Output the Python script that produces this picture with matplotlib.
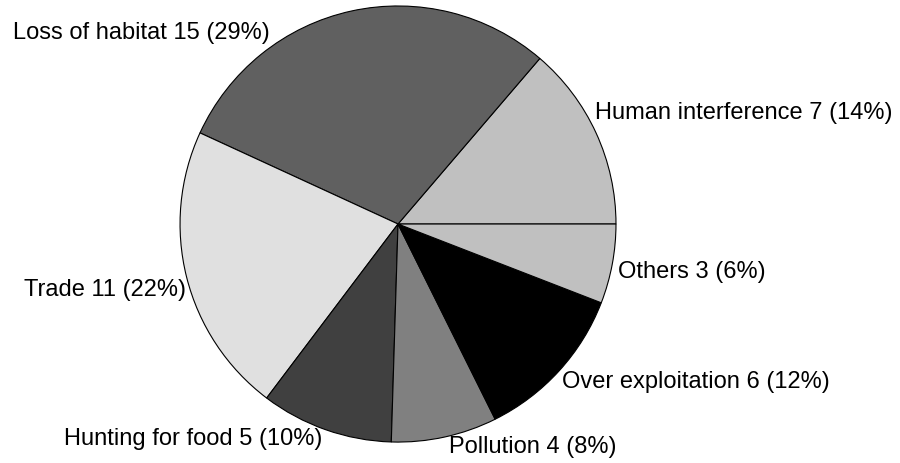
import matplotlib.pyplot as plt

# slice data, counter-clockwise from 3 o'clock
causes = ["Human interference", "Loss of habitat", "Trade", "Hunting for food",
          "Pollution", "Over exploitation", "Others"]
counts = [7, 15, 11, 5, 4, 6, 3]
percents = [14, 29, 22, 10, 8, 12, 6]
colors = ["#c0c0c0", "#606060", "#e0e0e0", "#404040", "#808080", "#000000", "#c0c0c0"]

# label anchors in pie units (radius = 1)
label_pos = [(0.904, 0.514, "left"), (-0.587, 0.881, "right"), (-0.972, -0.298, "right"),
             (-0.349, -0.982, "right"), (0.234, -1.018, "left"), (0.752, -0.720, "left"),
             (1.009, -0.216, "left")]

plt.rcParams["font.family"] = ["Liberation Sans", "DejaVu Sans"]

fig = plt.figure(figsize=(9, 4.64), dpi=100)
ax = fig.add_axes([0, 0, 1, 1])

ax.pie(counts, colors=colors, startangle=0, counterclock=True,
       wedgeprops=dict(edgecolor="black", linewidth=0.8))

for name, n, p, (x, y, ha) in zip(causes, counts, percents, label_pos):
    ax.text(x, y, f"{name} {n} ({p}%)", ha=ha, va="center", fontsize=17)

ax.set_aspect("auto")
ax.set_xlim(-1.826, 2.303)
ax.set_ylim(-1.096, 1.032)
ax.axis("off")

fig.savefig("out.png", dpi=100)
